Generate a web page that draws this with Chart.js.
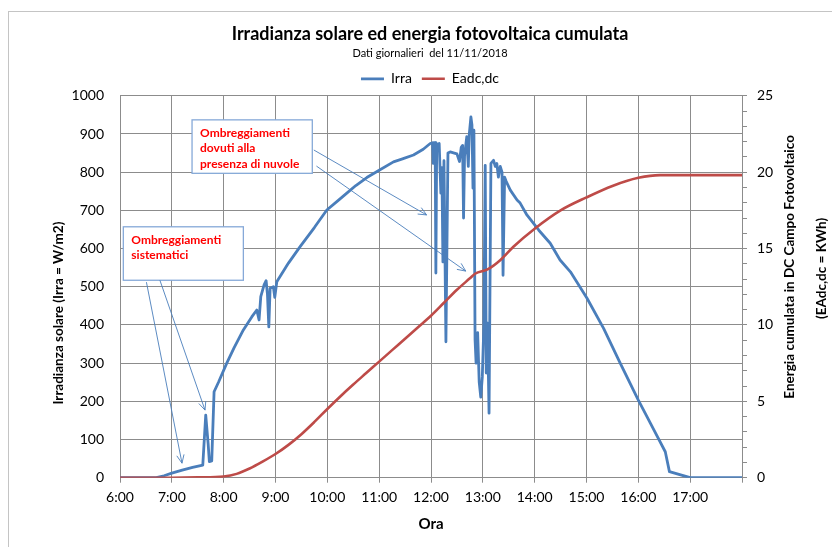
<!DOCTYPE html>
<html><head><meta charset="utf-8">
<script src="https://cdn.jsdelivr.net/npm/chart.js@4/dist/chart.umd.min.js"></script>
<style>
html,body{margin:0;padding:0;background:#fff;}
#wrap{position:relative;width:832px;height:547px;overflow:hidden;}
#frame{position:absolute;left:8px;top:11px;right:0;bottom:0;border-top:1px solid #c4c4c4;border-left:1px solid #c4c4c4;}
canvas{position:absolute;left:0;top:0;}
</style></head><body>
<div id="wrap"><div id="frame"></div><canvas id="c" width="832" height="547"></canvas></div>
<script>
// ---- data (hours of the day, decimal) ----
const irraHours = [6.00,6.70,6.85,7.00,7.20,7.40,7.597,7.654,7.70,7.724,7.77,7.815,7.90,8.06,8.20,8.38,8.542,8.639,8.683,8.716,8.78,8.819,8.845,8.871,8.896,8.959,8.986,9.025,9.25,9.475,9.75,9.99,10.2,10.376,10.55,10.762,11.0,11.276,11.45,11.662,11.85,11.985,12.03,12.043,12.056,12.08,12.094,12.11,12.158,12.19,12.21,12.23,12.25,12.288,12.327,12.37,12.45,12.50,12.55,12.583,12.61,12.628,12.647,12.69,12.72,12.737,12.77,12.79,12.81,12.828,12.85,12.87,12.90,12.93,12.96,12.99,13.02,13.046,13.066,13.09,13.12,13.156,13.206,13.24,13.27,13.30,13.336,13.37,13.39,13.42,13.45,13.53,13.66,13.72,13.85,14.08,14.30,14.49,14.69,15.01,15.33,15.65,16.0,16.30,16.52,16.60,17.0,18.0];
const irraValues = [0,0,5,12,20,27,33,164,90,42,44,225,250,300,340,387,421,439,413,474,505,516,480,395,496,500,472,513,562,605,655,701,725,745,765,786,805,827,835,845,860,875,877,823,877,877,536,873,875,745,812,565,830,356,850,853,850,848,828,865,870,680,842,893,815,897,945,924,758,910,362,300,380,250,211,264,400,818,274,405,169,823,831,815,823,787,815,800,530,787,776,753,727,719,688,648,614,570,539,470,391,300,203,125,68,16,0,0];
const energyHours = [6.0,7.0,7.5,8.0,8.25,8.5,8.75,9.0,9.25,9.5,9.75,10.0,10.25,10.5,10.75,11.0,11.25,11.5,11.75,12.0,12.25,12.5,12.75,12.85,13.1,13.34,13.59,14.0,14.5,15.0,15.5,16.0,16.42,17.0,18.0];
const energyValues = [0,0,0.02,0.08,0.25,0.6,1.05,1.55,2.15,2.85,3.65,4.5,5.32,6.1,6.85,7.6,8.35,9.1,9.85,10.6,11.45,12.3,13.05,13.35,13.65,14.25,15.12,16.3,17.5,18.35,19.1,19.63,19.81,19.81,19.81];
const hourTickLabels = ['6:00','7:00','8:00','9:00','10:00','11:00','12:00','13:00','14:00','15:00','16:00','17:00'];
const seriesNames = ['Irra','Eadc,dc'];

// ---- callouts (in data units: hour, W/m2) ----
const callouts = [
  {lines:['Ombreggiamenti','dovuti alla','presenza di nuvole'], box:[7.39,937,9.71,797],
   arrows:[[9.74,858,11.915,688],[9.79,816,12.67,541]]},
  {lines:['Ombreggiamenti','sistematici'], box:[6.064,657,8.38,517],
   arrows:[[6.51,512,7.196,38],[6.77,517,7.64,177]]}
];

const FONT = 'Lato, "Open Sans", sans-serif';
const GRID = '#8c8c8c';
const BLUE = '#4a7ebb';
const RED = '#be4b48';

const calloutPlugin = {
  id: 'callouts',
  afterDatasetsDraw(chart) {
    const ctx = chart.ctx, xs = chart.scales.x, ys = chart.scales.y;
    ctx.save();
    callouts.forEach(c => {
      const l = xs.getPixelForValue(c.box[0]), t = ys.getPixelForValue(c.box[1]);
      const r = xs.getPixelForValue(c.box[2]), b = ys.getPixelForValue(c.box[3]);
      ctx.fillStyle = '#fff';
      ctx.fillRect(l, t, r - l, b - t);
      ctx.strokeStyle = '#86a9d8';
      ctx.lineWidth = 1.3;
      ctx.strokeRect(l, t, r - l, b - t);
      ctx.fillStyle = '#ff0000';
      ctx.font = 'bold 12px ' + FONT;
      ctx.textBaseline = 'middle';
      ctx.textAlign = 'left';
      c.lines.forEach((s, i) => ctx.fillText(s, l + 8, t + 13 + i * 15.5));
      ctx.strokeStyle = BLUE;
      ctx.lineWidth = 0.9;
      c.arrows.forEach(a => {
        const x0 = xs.getPixelForValue(a[0]), y0 = ys.getPixelForValue(a[1]);
        const x1 = xs.getPixelForValue(a[2]), y1 = ys.getPixelForValue(a[3]);
        const ang = Math.atan2(y1 - y0, x1 - x0), L = 9, sp = 0.42;
        ctx.beginPath();
        ctx.moveTo(x0, y0); ctx.lineTo(x1, y1);
        ctx.moveTo(x1 - L * Math.cos(ang - sp), y1 - L * Math.sin(ang - sp));
        ctx.lineTo(x1, y1);
        ctx.lineTo(x1 - L * Math.cos(ang + sp), y1 - L * Math.sin(ang + sp));
        ctx.stroke();
      });
    });
    ctx.restore();
  }
};

const axisTitlePlugin = {
  id: 'axisTitles',
  afterDraw(chart) {
    const ctx = chart.ctx, a = chart.chartArea;
    ctx.save();
    ctx.fillStyle = '#000';
    ctx.font = 'bold 13.5px ' + FONT;
    ctx.textAlign = 'center';
    ctx.textBaseline = 'middle';
    const draw = (txt, x, y) => { ctx.save(); ctx.translate(x, y); ctx.rotate(-Math.PI / 2); ctx.fillText(txt, 0, 0); ctx.restore(); };
    draw('Irradianza solare (Irra = W/m2)', a.left - 61, a.top + a.height * 0.569);
    draw('Energia cumulata in DC Campo Fotovoltaico', a.right + 48, a.top + a.height * 0.448);
    draw('(EAdc,dc = KWh)', a.right + 79.5, a.top + a.height * 0.452);
    ctx.restore();
  }
};

new Chart(document.getElementById('c'), {
  type: 'line',
  data: {
    datasets: [
      {label: seriesNames[0], data: irraHours.map((h, i) => ({x: h, y: irraValues[i]})),
       borderColor: BLUE, backgroundColor: BLUE, borderWidth: 2.8, pointRadius: 0, tension: 0,
       borderJoinStyle: 'round', yAxisID: 'y', order: 1},
      {label: seriesNames[1], data: energyHours.map((h, i) => ({x: h, y: energyValues[i]})),
       borderColor: RED, backgroundColor: RED, borderWidth: 2.6, pointRadius: 0,
       cubicInterpolationMode: 'monotone', yAxisID: 'y1', order: 0}
    ]
  },
  options: {
    responsive: false, animation: false, events: [],
    layout: {padding: {top: 12, left: 28, right: 0, bottom: 0}},
    plugins: {
      tooltip: {enabled: false},
      title: {display: true, text: 'Irradianza solare ed energia fotovoltaica cumulata',
              color: '#000', font: {family: FONT, size: 18, weight: 'bold'}, padding: {top: 11, bottom: 0}},
      subtitle: {display: true, text: 'Dati giornalieri  del 11/11/2018',
                 color: '#000', font: {family: FONT, size: 11}, padding: {top: 2, bottom: 2}},
      legend: {display: true, position: 'top',
               labels: {usePointStyle: true, pointStyle: 'line', pointStyleWidth: 23, color: '#000',
                        font: {family: FONT, size: 14}, padding: 10,
                        sort: (a, b) => a.datasetIndex - b.datasetIndex}}
    },
    scales: {
      x: {type: 'linear', min: 6, max: 18,
          afterFit: s => { s.height = 69.3; },
          ticks: {stepSize: 1, autoSkip: false, maxRotation: 0, color: '#000', padding: 6,
                  font: {family: FONT, size: 14},
                  callback: v => hourTickLabels[Math.round(v) - 6] || ''},
          grid: {color: GRID, lineWidth: 1, drawTicks: true, tickLength: 5},
          border: {color: GRID, width: 1},
          title: {display: true, text: 'Ora', color: '#000', font: {family: FONT, size: 15, weight: 'bold'},
                  padding: {top: 0, bottom: 14}}},
      y: {position: 'left', min: 0, max: 1000,
          afterFit: s => { s.width = 92; },
          ticks: {stepSize: 100, color: '#000', padding: 16, font: {family: FONT, size: 14},
                  callback: v => String(v)},
          grid: {color: GRID, lineWidth: 1, drawTicks: false},
          border: {color: GRID, width: 1}},
      y1: {position: 'right', min: 0, max: 25,
           afterFit: s => { s.width = 90; },
           ticks: {stepSize: 1, autoSkip: false, color: '#000', padding: 10, font: {family: FONT, size: 14},
                   callback: v => (v % 5 === 0 ? String(v) : '')},
           grid: {drawOnChartArea: false, color: GRID, drawTicks: true, tickLength: 5},
           border: {color: GRID, width: 1}}
    }
  },
  plugins: [calloutPlugin, axisTitlePlugin]
});
</script>
</body></html>
